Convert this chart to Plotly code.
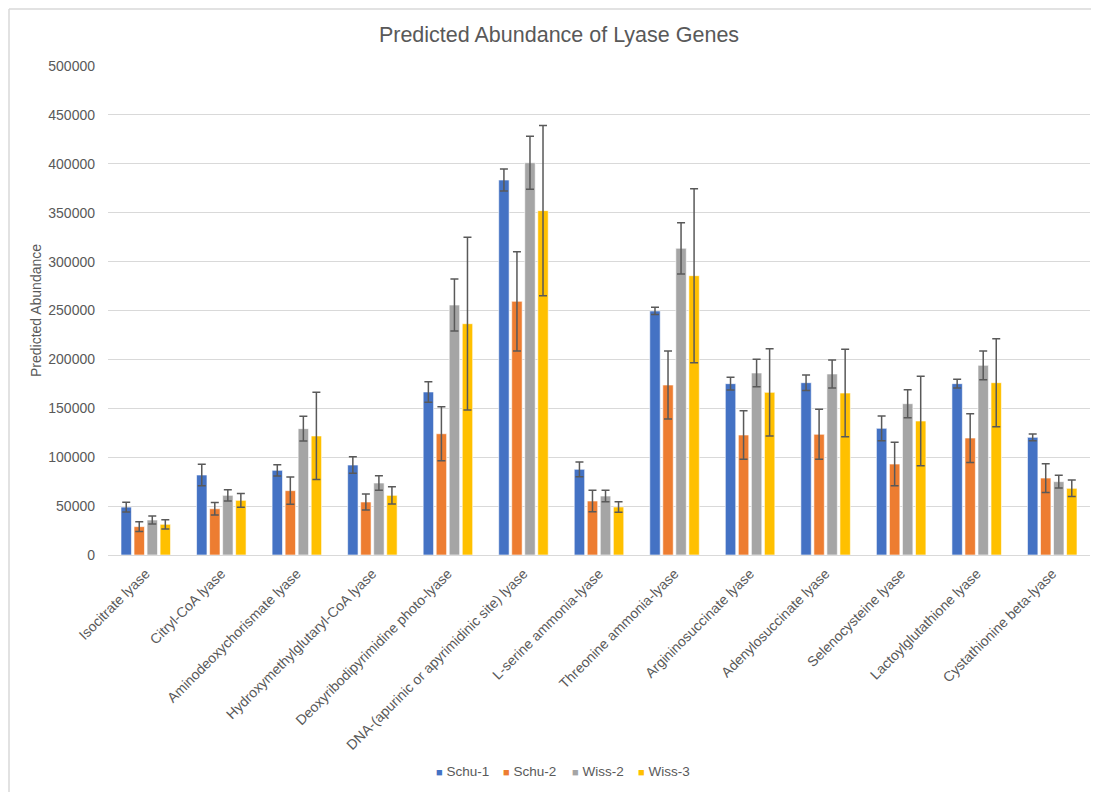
import plotly.graph_objects as go

categories = ["Isocitrate lyase", "Citryl-CoA lyase", "Aminodeoxychorismate lyase",
              "Hydroxymethylglutaryl-CoA lyase", "Deoxyribodipyrimidine photo-lyase",
              "DNA-(apurinic or apyrimidinic site) lyase", "L-serine ammonia-lyase",
              "Threonine ammonia-lyase", "Argininosuccinate lyase", "Adenylosuccinate lyase",
              "Selenocysteine lyase", "Lactoylglutathione lyase", "Cystathionine beta-lyase"]

schu1 = [49000, 81800, 86600, 92000, 166700, 383400, 87600, 249500, 175200, 176200, 129500, 175200, 120300]
schu1_err = [5000, 11000, 5800, 8500, 10500, 11300, 7500, 3700, 6500, 7900, 12600, 4500, 3400]
schu2 = [29000, 47300, 65800, 54200, 124000, 259400, 55200, 173800, 122700, 123400, 93000, 119600, 78700]
schu2_err = [5000, 6500, 14000, 8200, 27700, 50700, 11000, 34800, 24900, 25600, 22200, 24900, 14700]
wiss2 = [35800, 61000, 129200, 73600, 255600, 401100, 60300, 313600, 186100, 185100, 154700, 193900, 75000]
wiss2_err = [4000, 5800, 12600, 7500, 26600, 27000, 5800, 26200, 14000, 14300, 14300, 14700, 6500]
wiss3 = [31400, 55900, 121700, 61000, 236500, 352100, 49100, 285600, 166300, 165600, 137000, 176200, 68200]
wiss3_err = [4700, 7100, 44600, 8900, 88300, 87000, 5400, 89000, 44700, 44700, 45700, 45000, 8500]

series_names = ["Schu-1", "Schu-2", "Wiss-2", "Wiss-3"]
series_values = [schu1, schu2, wiss2, wiss3]
series_errors = [schu1_err, schu2_err, wiss2_err, wiss3_err]
series_colors = ["#4472C4", "#ED7D31", "#A5A5A5", "#FFC000"]

W, H = 1091, 784
L, T, PW, PH = 100, 58, 982, 489

fig = go.Figure()
for name, vals, errs, col in zip(series_names, series_values, series_errors, series_colors):
    fig.add_trace(go.Bar(
        x=categories, y=vals, name=name, showlegend=False,
        marker=dict(color=col, line=dict(color="rgba(255,255,255,0.6)", width=1)),
        error_y=dict(type="data", array=errs, visible=True, color="#595959",
                     thickness=1.5, width=4),
    ))

# legend entries (square + label), laid out like the reference's bottom legend
legend_x_px = [426, 493, 562, 628]
annotations = []
for name, col, lx in zip(series_names, series_colors, legend_x_px):
    annotations.append(dict(
        xref="paper", yref="paper", x=(lx - L) / PW, y=(T + PH - 763) / PH,
        xanchor="left", yanchor="middle", showarrow=False,
        text=f"<span style='color:{col};font-size:11px'>■</span> {name}",
        font=dict(size=13.5, color="#595959"),
    ))

fig.update_layout(
    width=W, height=H,
    barmode="group", bargap=0.31, bargroupgap=0.2,
    paper_bgcolor="white", plot_bgcolor="white",
    font=dict(family="Liberation Sans, Arial, sans-serif", size=13, color="#595959"),
    title=dict(text="Predicted Abundance of Lyase Genes", x=(559 - 8) / W, xanchor="center",
               y=1 - (34 - 8) / H, yanchor="middle", font=dict(size=21.5, color="#595959")),
    margin=dict(l=L, r=W - L - PW, t=T, b=H - T - PH, autoexpand=False),
    showlegend=False,
    annotations=annotations,
    shapes=[
        dict(type="line", xref="paper", yref="paper", x0=(1 - L) / PW, x1=1.02,
             y0=(T + PH - 1) / PH, y1=(T + PH - 1) / PH,
             line=dict(color="#D9D9D9", width=1.5)),
        dict(type="line", xref="paper", yref="paper", x0=(1 - L) / PW, x1=(1 - L) / PW,
             y0=(T + PH - 1) / PH, y1=-0.6,
             line=dict(color="#D9D9D9", width=1.5)),
    ],
)
fig.update_xaxes(tickangle=-45, showgrid=False, showline=True, linecolor="#D9D9D9",
                 linewidth=1, ticks="", ticklabelstandoff=4,
                 tickfont=dict(size=14, color="#595959"), automargin=False)
fig.update_yaxes(range=[0, 500000], dtick=50000, tickformat="d", showgrid=True,
                 gridcolor="#D9D9D9", gridwidth=1, zeroline=False, showline=False,
                 ticks="", ticklabelstandoff=12,
                 title=dict(text="Predicted Abundance", font=dict(size=14, color="#595959"), standoff=3),
                 tickfont=dict(size=14, color="#595959"), automargin=False)

fig.write_html("out.html")
